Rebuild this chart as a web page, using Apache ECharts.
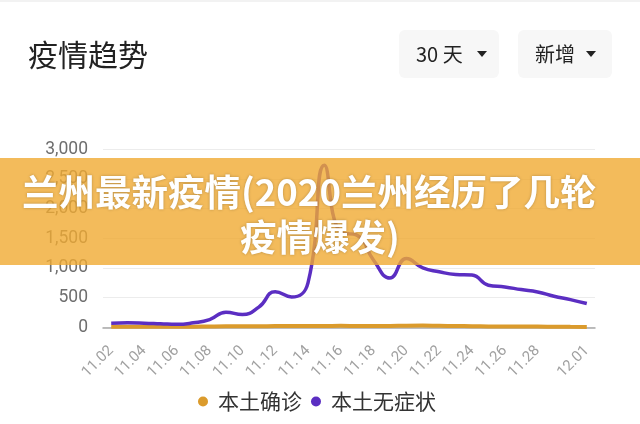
<!DOCTYPE html>
<html>
<head>
<meta charset="utf-8">
<script src="https://cdn.jsdelivr.net/npm/echarts@6/dist/echarts.min.js"></script>
<style>
html,body{margin:0;padding:0;background:#fff;}
#c{width:640px;height:424px;}
</style>
</head>
<body>
<div id="c"></div>
<script>
var dates = ['11.02','11.03','11.04','11.05','11.06','11.07','11.08','11.09','11.10','11.11',
             '11.12','11.13','11.14','11.15','11.16','11.17','11.18','11.19','11.20','11.21',
             '11.22','11.23','11.24','11.25','11.26','11.27','11.28','11.29','11.30','12.01'];
var confirmed = [8,8,8,8,8,10,14,16,16,18,20,22,20,22,25,22,20,22,28,30,26,22,18,15,14,12,12,10,8,6];
var asymptomatic = [70,75,70,60,50,75,130,255,215,340,600,510,750,2730,1600,1550,1130,830,1160,1000,
                    935,890,880,710,680,636,596,523,467,400];
var yTicks = [0,500,1000,1500,2000,2500,3000];
var seriesNames = ['本土确诊','本土无症状'];
var bannerLines = ['兰州最新疫情(2020兰州经历了几轮','疫情爆发)'];

var chart = echarts.init(document.getElementById('c'));
var cjk = '"Noto Sans CJK SC", "Noto Sans", sans-serif';
chart.setOption({
  backgroundColor: '#fff',
  animation: false,
  title: {
    text: '疫情趋势', left: 23, top: 35,
    textStyle: {fontSize: 30, fontWeight: 'normal', color: '#222', fontFamily: cjk}
  },
  grid: {left: 103, right: 45, top: 149.3, bottom: 96.7},
  xAxis: {
    type: 'category', data: dates, boundaryGap: true,
    axisLine: {lineStyle: {color: '#a8a8a8', width: 1.5}},
    axisTick: {show: false},
    axisLabel: {
      rotate: 45, color: '#a0a0a0', fontSize: 15, margin: 21, fontFamily: 'Roboto, sans-serif',
      interval: function (i) { return (i % 2 === 0 && i < 28) || i === 29; }
    }
  },
  yAxis: {
    type: 'value', min: yTicks[0], max: yTicks[yTicks.length - 1], interval: 500,
    axisLine: {show: false}, axisTick: {show: false},
    splitLine: {lineStyle: {color: '#ececec', width: 1}},
    axisLabel: {
      color: '#6e6e6e', fontSize: 17.5, margin: 15, fontFamily: 'Roboto, sans-serif',
      formatter: function (v) { return v.toLocaleString('en-US'); }
    }
  },
  legend: {
    left: 193, top: 386, itemWidth: 20, itemHeight: 10, itemGap: 9, icon: 'circle',
    textStyle: {fontSize: 21, color: '#333', fontFamily: cjk},
    data: seriesNames
  },
  series: [
    {name: seriesNames[0], type: 'line', data: confirmed, smooth: true, showSymbol: false,
     itemStyle: {color: '#DB9B2C'}, lineStyle: {color: '#DB9B2C', width: 4}},
    {name: seriesNames[1], type: 'line', data: asymptomatic, smooth: true, showSymbol: false,
     itemStyle: {color: '#5B2EC2'}, lineStyle: {color: '#5B2EC2', width: 3.5}}
  ],
  graphic: [
    {type: 'rect', z: 50, shape: {x: 0, y: 0, width: 640, height: 2}, style: {fill: '#f2f2f2'}},
    {type: 'rect', z: 50, shape: {x: 399, y: 30, width: 100, height: 48, r: 6}, style: {fill: '#f7f7f7'}},
    {type: 'text', z: 51, x: 416, y: 54, style: {text: '30 天', fill: '#222', fontSize: 20, fontFamily: cjk, verticalAlign: 'middle'}},
    {type: 'polygon', z: 51, shape: {points: [[477, 51], [487, 51], [482, 57]]}, style: {fill: '#222'}},
    {type: 'rect', z: 50, shape: {x: 518, y: 30, width: 94, height: 48, r: 6}, style: {fill: '#f7f7f7'}},
    {type: 'text', z: 51, x: 535, y: 54, style: {text: '新增', fill: '#222', fontSize: 20, fontFamily: cjk, verticalAlign: 'middle'}},
    {type: 'polygon', z: 51, shape: {points: [[586, 51], [596, 51], [591, 57]]}, style: {fill: '#222'}},
    {type: 'rect', z: 100, shape: {x: 0, y: 158, width: 640, height: 107}, style: {fill: 'rgba(240,170,50,0.8)'}},
    {type: 'text', z: 101, x: 22, y: 192, style: {text: bannerLines[0], fill: '#fff', fontSize: 36.5, fontWeight: 'bold', fontFamily: cjk, align: 'left', verticalAlign: 'middle', textShadowColor: 'rgba(0,0,0,0.25)', textShadowBlur: 3}},
    {type: 'text', z: 101, x: 320, y: 237, style: {text: bannerLines[1], fill: '#fff', fontSize: 36.5, fontWeight: 'bold', fontFamily: cjk, align: 'center', verticalAlign: 'middle', textShadowColor: 'rgba(0,0,0,0.25)', textShadowBlur: 3}}
  ]
});
</script>
</body>
</html>
